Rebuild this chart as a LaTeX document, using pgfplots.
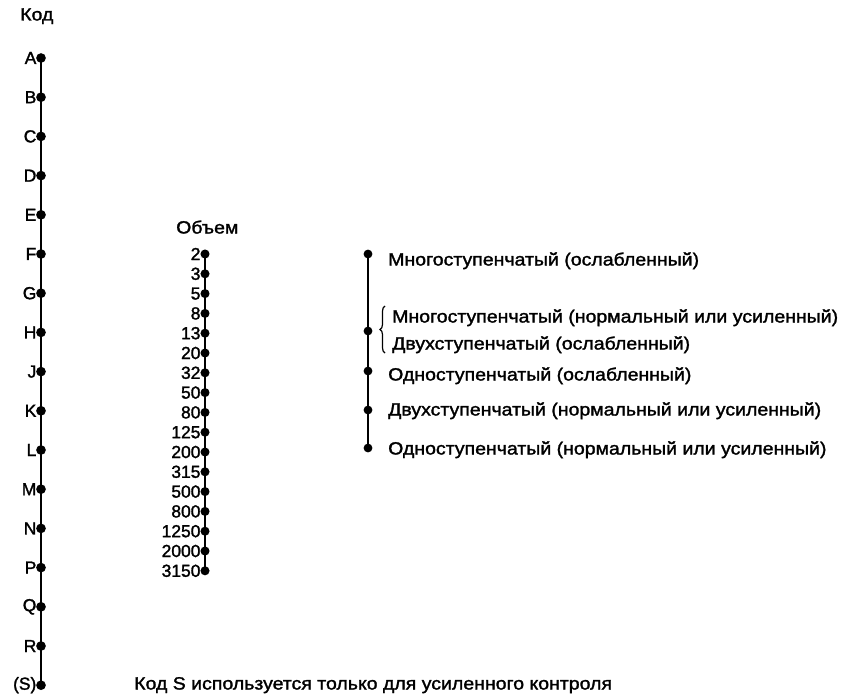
\documentclass[border=0pt]{standalone}
\usepackage{pgfplots}
\pgfplotsset{compat=1.18}
\usepackage{pgfplotstable}
\usepackage{fontspec}
\setmainfont{Liberation Sans}[FakeBold=1.6]
\newfontfamily\widefont{Liberation Sans}[FakeStretch=1.1, FakeBold=1.6]
\usetikzlibrary{decorations.pathreplacing}

\pgfplotstableread{
x y label
41 58.0 A
41 97.2 B
41 136.4 C
41 175.6 D
41 214.8 E
41 254.0 F
41 293.2 G
41 332.4 H
41 371.6 J
41 410.8 K
41 450.0 L
41 489.2 M
41 528.4 N
41 567.6 P
41 606.8 Q
41 646.0 R
41 685.2 (S)
}\codes

\pgfplotstableread{
x y label
205 254.0 2
205 273.8 3
205 293.6 5
205 313.4 8
205 333.2 13
205 353.0 20
205 372.8 32
205 392.6 50
205 412.4 80
205 432.2 125
205 452.0 200
205 471.8 315
205 491.6 500
205 511.4 800
205 531.2 1250
205 551.0 2000
205 570.8 3150
}\volume

\pgfplotstableread{
x y
368 254
368 331
368 371
368 410
368 448
}\types

\begin{document}
\begin{tikzpicture}
\begin{axis}[
  scale only axis, width=844bp, height=694bp,
  xmin=0, xmax=844, ymin=0, ymax=694, y dir=reverse,
  hide axis, clip=false,
  every node near coord/.append style={anchor=east, inner sep=0pt, xshift=-3.5bp, font=\fontsize{17.5}{20}\selectfont, text=black},
]
\path (axis cs:0,0) (axis cs:844,694);
\addplot[black, line width=2.3bp, mark=*, mark size=3.6bp, mark options={fill=black},
  nodes near coords, point meta=explicit symbolic] table[x=x, y=y, meta=label] {\codes};
\addplot[black, line width=2.1bp, mark=*, mark size=3.4bp, mark options={fill=black},
  nodes near coords, point meta=explicit symbolic] table[x=x, y=y, meta=label] {\volume};
\addplot[black, line width=1.7bp, mark=*, mark size=3.5bp, mark options={fill=black}] table[x=x, y=y] {\types};

\begin{scope}[every node/.style={anchor=west, inner sep=0pt, text height=12.5bp, text depth=3.5bp, font=\widefont\fontsize{17.8}{20}\selectfont}]
\node at (axis cs:20,16) {Код};
\node at (axis cs:176,229) {Объем};
\node at (axis cs:388,261) {Многоступенчатый (ослабленный)};
\node at (axis cs:392,318) {Многоступенчатый (нормальный или усиленный)};
\node at (axis cs:392,345) {Двухступенчатый (ослабленный)};
\node at (axis cs:388,376) {Одноступенчатый (ослабленный)};
\node at (axis cs:388,411) {Двухступенчатый (нормальный или усиленный)};
\node at (axis cs:388,450) {Одноступенчатый (нормальный или усиленный)};
\node at (axis cs:134,685) {Код S используется только для усиленного контроля};
\end{scope}
\draw[line width=1.2bp, decorate, decoration={brace, amplitude=5bp}] (axis cs:385,353) -- (axis cs:385,306);
\end{axis}
\end{tikzpicture}
\end{document}
